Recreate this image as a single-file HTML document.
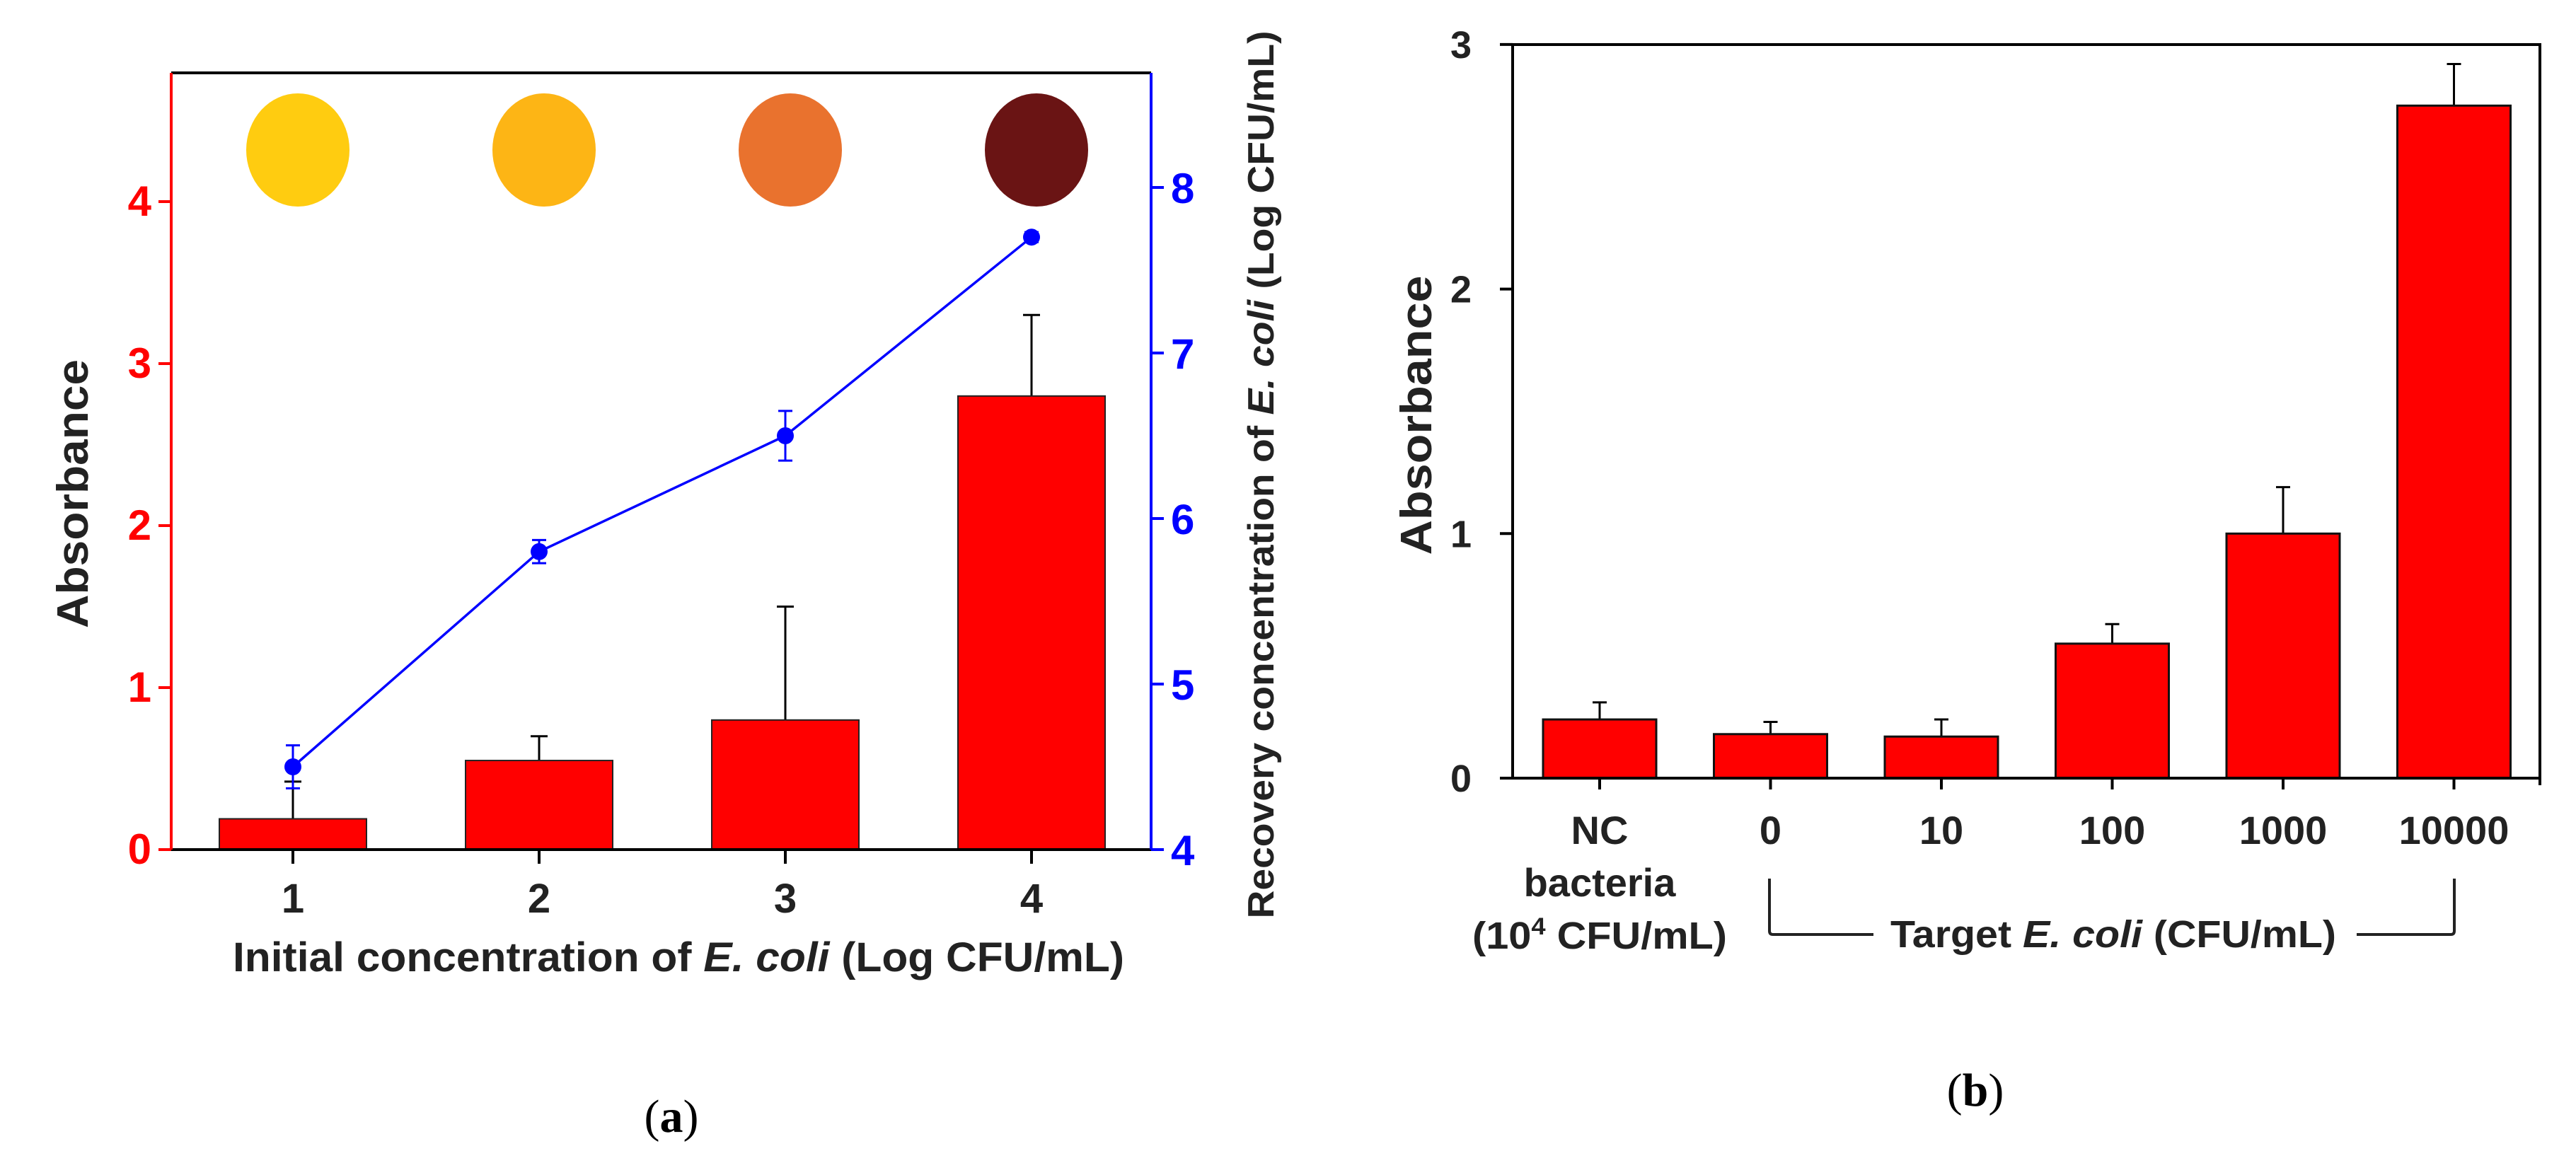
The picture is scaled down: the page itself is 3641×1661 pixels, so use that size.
<!DOCTYPE html>
<html><head><meta charset="utf-8"><style>
html,body{margin:0;padding:0;background:#fff;}
svg{display:block;font-family:"Liberation Sans",Arial,sans-serif;}
</style></head><body>
<svg id="fig" width="3641" height="1661" viewBox="0 0 3641 1661" xmlns="http://www.w3.org/2000/svg">
<g id="chartA"></g>
<g id="chartB"></g>
</svg>
<script>
// ---- Chart (a) data ----
const aCategories = ["1","2","3","4"];
const aAbsorbance = [0.19, 0.55, 0.8, 2.8];
const aAbsErr = [0.23, 0.15, 0.7, 0.5];
const aRecovery = [4.5, 5.8, 6.5, 7.7];
const aRecErr = [0.13, 0.07, 0.15, 0.03];
const aLeftTicks = [0,1,2,3,4];
const aRightTicks = [4,5,6,7,8];
const aPhotoColors = ["#FFCC10","#FDB515","#E9722E","#6A1414"];
// ---- Chart (b) data ----
const bCategories = ["NC","0","10","100","1000","10000"];
const bValues = [0.24, 0.18, 0.17, 0.55, 1.0, 2.75];
const bErr = [0.07, 0.05, 0.07, 0.08, 0.19, 0.17];
const bTicks = [0,1,2,3];

const NS="http://www.w3.org/2000/svg";
function mk(parent,tag,attrs,text){const e=document.createElementNS(NS,tag);for(const k in attrs)e.setAttribute(k,attrs[k]);if(text!==undefined)e.textContent=text;parent.appendChild(e);return e;}

// ===== Chart A =====
(function(){
const g=document.getElementById('chartA');
const L=242,R=1627,T=103,B=1201;
const yL=v=>B-v*229;
const yR=v=>B-(v-4)*234;
const xA=i=>414+i*348;
// photos
aPhotoColors.forEach((c,i)=>{
  const e=mk(g,'ellipse',{cx:xA(i)+7,cy:212,rx:73,ry:80,fill:c});
  
  
});
// bars
aAbsorbance.forEach((v,i)=>{
  const x=xA(i);
  const eb=mk(g,'path',{d:`M${x},${yL(v)}V${yL(v+aAbsErr[i])}M${x-12},${yL(v+aAbsErr[i])}H${x+12}`,stroke:'#000','stroke-width':3,fill:'none'});
  
  
  const r=mk(g,'rect',{x:x-104,y:yL(v),width:208,height:B-yL(v),fill:'#FF0000',stroke:'#222','stroke-width':2});
  
  
});
// line
const pts=aRecovery.map((v,i)=>xA(i)+','+yR(v)).join(' ');
const pl=mk(g,'polyline',{points:pts,fill:'none',stroke:'#0000FF','stroke-width':3.5});


aRecovery.forEach((v,i)=>{
  const x=xA(i),t=yR(v+aRecErr[i]),b=yR(v-aRecErr[i]);
  const eb=mk(g,'path',{d:`M${x},${t}V${b}M${x-10},${t}H${x+10}M${x-10},${b}H${x+10}`,stroke:'#0000FF','stroke-width':3,fill:'none'});
  
  
  const c=mk(g,'circle',{cx:x,cy:yR(v),r:12,fill:'#0000FF'});
  
  
});
// axes
mk(g,'line',{x1:L,y1:T,x2:R,y2:T,stroke:'#000','stroke-width':4,});
mk(g,'line',{x1:L,y1:B,x2:R,y2:B,stroke:'#000','stroke-width':4,});
mk(g,'line',{x1:L,y1:T,x2:L,y2:B,stroke:'#FF0000','stroke-width':4,});
mk(g,'line',{x1:R,y1:T,x2:R,y2:B,stroke:'#0000FF','stroke-width':4,});
aLeftTicks.forEach(v=>{
  const y=yL(v);
  mk(g,'line',{x1:L-18,y1:y,x2:L,y2:y,stroke:'#FF0000','stroke-width':4});
  const t=mk(g,'text',{x:L-28,y:y+20,'text-anchor':'end','font-size':60,'font-weight':'bold',fill:'#FF0000'},String(v));
  
  
});
aRightTicks.forEach(v=>{
  const y=yR(v);
  mk(g,'line',{x1:R,y1:y,x2:R+18,y2:y,stroke:'#0000FF','stroke-width':4});
  const t=mk(g,'text',{x:R+28,y:y+22,'text-anchor':'start','font-size':60,'font-weight':'bold',fill:'#0000FF'},String(v));
  
  
});
aCategories.forEach((c,i)=>{
  mk(g,'line',{x1:xA(i),y1:B,x2:xA(i),y2:B+20,stroke:'#000','stroke-width':4});
  const t=mk(g,'text',{x:xA(i),y:1290,'text-anchor':'middle','font-size':58,'font-weight':'bold',fill:'#222'},c);
  
  
});
})();

// ===== Chart B =====
(function(){
const g=document.getElementById('chartB');
const L=2138,R=3590,T=63,B=1100;
const y=v=>B-v*345.7;
const xB=i=>2261+i*241.5;
bValues.forEach((v,i)=>{
  const x=xB(i),te=y(v+bErr[i]);
  const eb=mk(g,'path',{d:`M${x},${y(v)}V${te}M${x-10},${te}H${x+10}`,stroke:'#000','stroke-width':3,fill:'none'});
  
  
  const r=mk(g,'rect',{x:x-80,y:y(v),width:160,height:B-y(v),fill:'#FF0000',stroke:'#111','stroke-width':3});
  
  
});
mk(g,'path',{d:`M${L},${T}H${R}V${B+10}M${L},${T}V${B}H${R}`,fill:'none',stroke:'#000','stroke-width':4,});
bTicks.forEach(v=>{
  mk(g,'line',{x1:L-18,y1:y(v),x2:L,y2:y(v),stroke:'#000','stroke-width':4});
  const t=mk(g,'text',{x:2065,y:y(v)+19,'text-anchor':'middle','font-size':54,'font-weight':'bold',fill:'#222'},String(v));
  
  
});
bCategories.forEach((c,i)=>{
  mk(g,'line',{x1:xB(i),y1:B,x2:xB(i),y2:B+16,stroke:'#000','stroke-width':4});
  const t=mk(g,'text',{x:xB(i),y:1193,'text-anchor':'middle','font-size':56,'font-weight':'bold',fill:'#222'},c);
  
  
});
})();
</script>
<svg style="position:absolute;left:0;top:0" width="3641" height="1661" xmlns="http://www.w3.org/2000/svg">
<g font-family="Liberation Sans, Arial, sans-serif" font-weight="bold" fill="#222">
<text x="0" y="0" transform="translate(124,698) rotate(-90)" text-anchor="middle" font-size="62" textLength="380" lengthAdjust="spacingAndGlyphs">Absorbance</text>
<text x="0" y="0" transform="translate(1800,671) rotate(-90)" text-anchor="middle" font-size="52" textLength="1255" lengthAdjust="spacingAndGlyphs">Recovery  concentration of <tspan font-style="italic">E. coli</tspan> (Log CFU/mL)</text>
<text x="959" y="1373" text-anchor="middle" font-size="58" textLength="1260" lengthAdjust="spacingAndGlyphs">Initial  concentration of <tspan font-style="italic">E. coli</tspan> (Log CFU/mL)</text>
<text x="0" y="0" transform="translate(2023,587) rotate(-90)" text-anchor="middle" font-size="62" textLength="395" lengthAdjust="spacingAndGlyphs">Absorbance</text>
<text x="2261" y="1267" text-anchor="middle" font-size="56">bacteria</text>
<text x="2261" y="1341" text-anchor="middle" font-size="54" textLength="360" lengthAdjust="spacingAndGlyphs">(10<tspan font-size="34" dy="-20">4</tspan><tspan dy="20"> CFU/mL)</tspan></text>
<text x="2987" y="1339" text-anchor="middle" font-size="54" textLength="630" lengthAdjust="spacingAndGlyphs">Target <tspan font-style="italic">E. coli</tspan> (CFU/mL)</text>
</g>
<path d="M2501,1242V1316Q2501,1321 2506,1321H2648M3331,1321H3464Q3469,1321 3469,1316V1242" fill="none" stroke="#222" stroke-width="4"/>
<text x="949" y="1600" text-anchor="middle" font-family="Liberation Serif, serif" font-size="66">(<tspan font-weight="bold">a</tspan>)</text>
<text x="2792" y="1563" text-anchor="middle" font-family="Liberation Serif, serif" font-size="66">(<tspan font-weight="bold">b</tspan>)</text>
</svg>
</body></html>
